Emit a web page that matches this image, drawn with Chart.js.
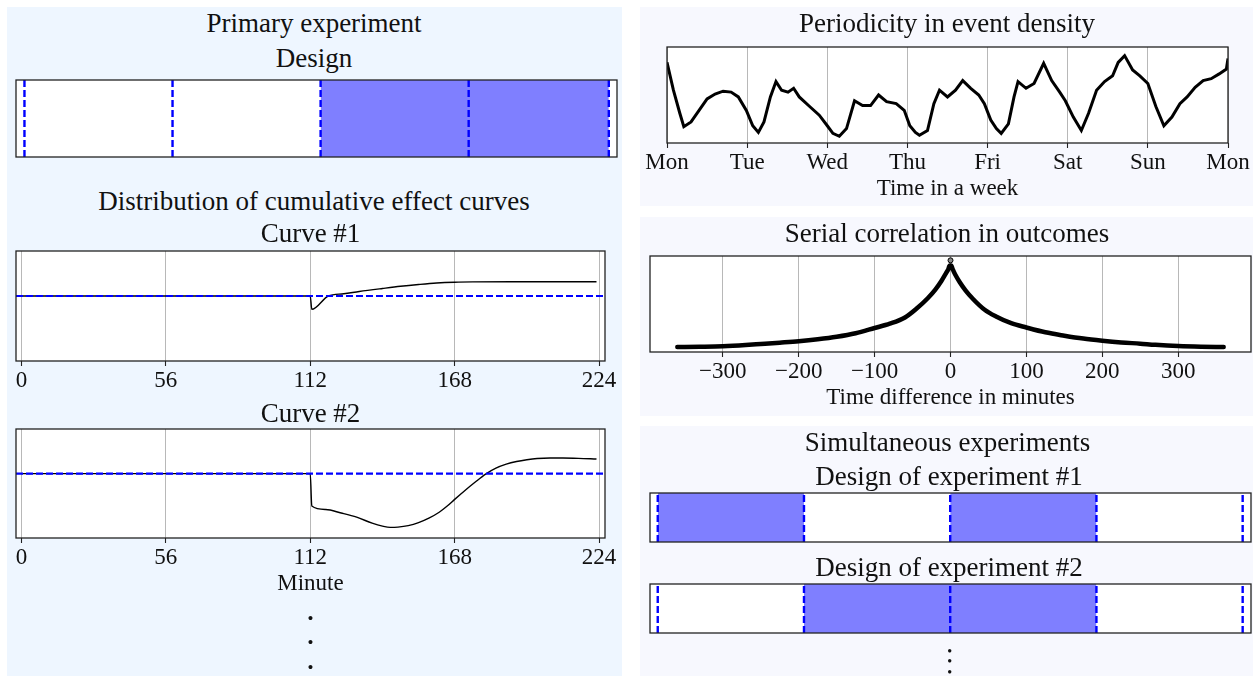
<!DOCTYPE html>
<html><head><meta charset="utf-8">
<script src="https://cdn.jsdelivr.net/npm/chart.js"></script>
<style>
html,body{margin:0;padding:0;background:#fff;}
body{width:1253px;height:676px;position:relative;overflow:hidden;font-family:"Liberation Serif","Times New Roman",serif;color:#111;}
.panel{position:absolute;}
.txt{position:absolute;text-align:center;white-space:nowrap;z-index:3;}
canvas{position:absolute;z-index:2;}
</style></head><body>
<div class="panel" style="left:7px;top:7px;width:615px;height:669px;background:#eef6ff"></div>
<div class="panel" style="left:640px;top:7px;width:613px;height:199px;background:#f7f8fe"></div>
<div class="panel" style="left:640px;top:217px;width:613px;height:199px;background:#f7f8fe"></div>
<div class="panel" style="left:640px;top:426px;width:613px;height:250px;background:#f7f8fe"></div>
<script>
// tick labels
const DAY_TICKS = ['Mon','Tue','Wed','Thu','Fri','Sat','Sun','Mon'];
const MINUTE_TICKS = [0,56,112,168,224];
const LAG_TICKS = [-300,-200,-100,0,100,200,300];

// experiment designs (period boundaries and treated spans)
const PRIMARY_CUTS = [0,56,112,168,221];
const PRIMARY_TREATED = [[112,221]];
const EXP_CUTS = [0,1,2,3,4];
const EXP1_TREATED = [[0,1],[2,3]];
const EXP2_TREATED = [[1,3]];

// cumulative effect curves
const CURVE1_MIN    = [0,112,112.6,119,125,131,140,147,154,161,168,175,190,223];
const CURVE1_EFFECT = [0,0,-0.133,0,0.022,0.045,0.075,0.097,0.115,0.13,0.138,0.141,0.142,0.142];
const CURVE2_MIN    = [0,112,112.6,118,124,130,136,140,143,146,150,154,158,162,165,168,172,176,180,184,188,192,196,200,205,210,216,223];
const CURVE2_EFFECT = [0,0,-0.327,-0.362,-0.398,-0.44,-0.5,-0.53,-0.543,-0.54,-0.525,-0.495,-0.45,-0.39,-0.33,-0.26,-0.17,-0.085,-0.005,0.055,0.095,0.122,0.14,0.152,0.157,0.157,0.154,0.147];

// event density over the week (days since Monday)
const WEEK_DAY = [0,0.08,0.16,0.21,0.30,0.40,0.50,0.60,0.70,0.80,0.89,0.99,1.07,1.14,1.21,1.29,1.36,1.43,1.51,1.58,1.65,1.78,1.90,2.00,2.07,2.15,2.24,2.34,2.44,2.54,2.64,2.74,2.86,2.96,3.03,3.10,3.15,3.25,3.33,3.40,3.50,3.60,3.69,3.79,3.89,3.96,4.04,4.11,4.17,4.26,4.33,4.38,4.48,4.58,4.70,4.80,4.90,4.97,5.07,5.17,5.26,5.36,5.46,5.56,5.63,5.71,5.81,5.90,6.00,6.10,6.20,6.30,6.40,6.49,6.59,6.69,6.79,6.89,6.98,7.0];
const WEEK_DENSITY = [0.84,0.55,0.31,0.17,0.22,0.34,0.46,0.51,0.54,0.53,0.48,0.34,0.18,0.11,0.22,0.48,0.64,0.55,0.53,0.57,0.48,0.38,0.29,0.18,0.10,0.07,0.15,0.44,0.39,0.39,0.50,0.43,0.41,0.34,0.18,0.11,0.08,0.13,0.41,0.55,0.48,0.55,0.65,0.57,0.50,0.41,0.24,0.15,0.10,0.20,0.48,0.64,0.57,0.62,0.83,0.65,0.53,0.44,0.27,0.13,0.31,0.55,0.64,0.70,0.84,0.91,0.76,0.70,0.62,0.38,0.18,0.27,0.41,0.48,0.58,0.65,0.67,0.72,0.77,0.88];

// serial correlation by time lag
const LAG  = [-360,-330,-300,-270,-250,-225,-200,-175,-150,-125,-100,-80,-60,-45,-30,-20,-12,-6,-3,-1,1,3,6,12,20,30,45,60,80,100,125,150,175,200,225,250,270,300,330,360];
const CORR = [0.052,0.055,0.06,0.072,0.083,0.097,0.112,0.132,0.158,0.195,0.25,0.295,0.36,0.45,0.56,0.65,0.74,0.82,0.86,0.90,0.90,0.86,0.81,0.73,0.64,0.55,0.44,0.37,0.30,0.255,0.205,0.17,0.14,0.118,0.10,0.087,0.075,0.062,0.055,0.052];
const ZERO_LAG_CORR = 0.955;

Chart.defaults.font.family = '"Liberation Serif","Times New Roman",serif';
Chart.defaults.color = '#111';

const frame = {
  id:'frame',
  beforeDraw(c){ const a=c.chartArea, x=c.ctx; x.save(); x.fillStyle='#fff'; x.fillRect(a.left,a.top,a.right-a.left,a.bottom-a.top); x.restore(); },
  afterDraw(c){ const a=c.chartArea, x=c.ctx; x.save(); x.strokeStyle='#222'; x.lineWidth=1.3; x.strokeRect(a.left,a.top,a.right-a.left,a.bottom-a.top); x.restore(); }
};

function label(text, cx, cy, size) {
  const d = document.createElement('div');
  d.className = 'txt'; d.textContent = text;
  d.style.fontSize = size+'px'; d.style.lineHeight = (size*1.2)+'px';
  d.style.left = (cx-300)+'px'; d.style.width = '600px'; d.style.top = (cy-size*0.6)+'px';
  document.body.appendChild(d);
}

function xAxis(min, max, ticks, fmt, title) {
  return {
    type:'linear', min, max, bounds:'data',
    afterBuildTicks: s => { s.ticks = ticks.map(v=>({value:v})); },
    afterFit: s => { s.height = title ? 64 : 40; s.paddingLeft = 0; s.paddingRight = 0; },
    grid:{color:'#b0b0b0', lineWidth:0.9, tickColor:'#222', tickLength:5, tickWidth:1.1},
    border:{display:false},
    ticks:{autoSkip:false, maxRotation:0, padding:1, font:{size:23}, color:'#111', callback:(v,i)=>fmt(v,i)},
    title: title ? {display:true, text:title, font:{size:23}, color:'#111', padding:{top:0,bottom:4}} : {display:false}
  };
}
const hidden = (min, max) => ({type:'linear', display:false, min, max, bounds:'data'});

function panel(area, axisH, datasets, x, y) {
  const [l,t,r,b] = area;
  const cv = document.createElement('canvas');
  cv.width = r-l+80; cv.height = b-t+6+axisH;
  cv.style.left = (l-40)+'px'; cv.style.top = (t-4)+'px';
  document.body.appendChild(cv);
  return new Chart(cv, {
    type:'line', data:{datasets},
    options:{
      responsive:false, animation:false, events:[],
      layout:{autoPadding:false, padding:{left:40,right:40,top:4,bottom:2}},
      plugins:{legend:{display:false}, tooltip:{enabled:false}},
      scales:{x, y}
    },
    plugins:[frame]
  });
}

const line = (xs, ys, o) => Object.assign({data:xs.map((x,i)=>({x, y:ys[i]})), borderColor:'#000', borderWidth:1.4, pointRadius:0, fill:false, tension:0}, o||{});

function designSets(cuts, treated) {
  const dashes = cuts.map(c => line([c,c],[0,1],{borderColor:'#0000ff', borderWidth:2.4, borderDash:[7,3]}));
  const blocks = treated.map(([a,b]) => line([a,b],[1,1],{borderColor:'transparent', borderWidth:0, fill:'origin', backgroundColor:'rgba(0,0,255,0.5)'}));
  return dashes.concat(blocks);
}
function baseline(min, max) { return line([min,max],[0,0],{borderColor:'#0000ff', borderWidth:2.2, borderDash:[7,3]}); }

// left: primary experiment
label('Primary experiment', 314, 23.3, 27);
label('Design', 314, 57.8, 27);
panel([16,80,617,157], 0, designSets(PRIMARY_CUTS, PRIMARY_TREATED),
  {type:'linear', display:false, min:-3.2, max:224.1, bounds:'data'}, hidden(0,1));

label('Distribution of cumulative effect curves', 314, 200.8, 27);
label('Curve #1', 310.5, 233.3, 27);
panel([16,250.7,605,361], 40,
  [baseline(-2.1,226.3), line(CURVE1_MIN, CURVE1_EFFECT, {cubicInterpolationMode:'monotone'})],
  xAxis(-2.1, 226.3, MINUTE_TICKS, v=>String(v)), hidden(-0.65,0.45));

label('Curve #2', 310.5, 413.3, 27);
panel([16,429,605,538.7], 64,
  [baseline(-2.1,226.3), line(CURVE2_MIN, CURVE2_EFFECT, {cubicInterpolationMode:'monotone'})],
  xAxis(-2.1, 226.3, MINUTE_TICKS, v=>String(v), 'Minute'), hidden(-0.65,0.45));

label('\u2022', 310.5, 619.3, 17);
label('\u2022', 310.5, 643.3, 17);
label('\u2022', 310.5, 667.7, 17);

// right: periodicity
label('Periodicity in event density', 947, 23.3, 27);
panel([666.7,46.7,1228.5,142.7], 64,
  [line(WEEK_DAY, WEEK_DENSITY, {borderWidth:3})],
  xAxis(0, 7, [0,1,2,3,4,5,6,7], (v,i)=>DAY_TICKS[i], 'Time in a week'), hidden(0,1));

// right: serial correlation
label('Serial correlation in outcomes', 947, 233.3, 27);
panel([650,255.7,1251,352.3], 64,
  [line([0],[ZERO_LAG_CORR],{showLine:false, pointRadius:2.5, pointBackgroundColor:'#888', pointBorderColor:'#000', pointBorderWidth:1}),
   line(LAG, CORR, {borderWidth:4.5, cubicInterpolationMode:'monotone', borderCapStyle:'round'})],
  xAxis(-396, 396, LAG_TICKS, v=>v<0?'\u2212'+Math.abs(v):String(v), 'Time difference in minutes'), hidden(0,1));

// right: simultaneous experiments
label('Simultaneous experiments', 947.5, 441.7, 27);
label('Design of experiment #1', 949, 475.8, 27);
panel([650,493,1251,542], 0, designSets(EXP_CUTS, EXP1_TREATED),
  {type:'linear', display:false, min:-0.053, max:4.057, bounds:'data'}, hidden(0,1));
label('Design of experiment #2', 949, 567.2, 27);
panel([650,584,1251,633], 0, designSets(EXP_CUTS, EXP2_TREATED),
  {type:'linear', display:false, min:-0.053, max:4.057, bounds:'data'}, hidden(0,1));

label('\u2022', 949.8, 652.3, 14);
label('\u2022', 949.8, 662.3, 14);
label('\u2022', 949.8, 673.3, 14);
</script>
</body></html>
